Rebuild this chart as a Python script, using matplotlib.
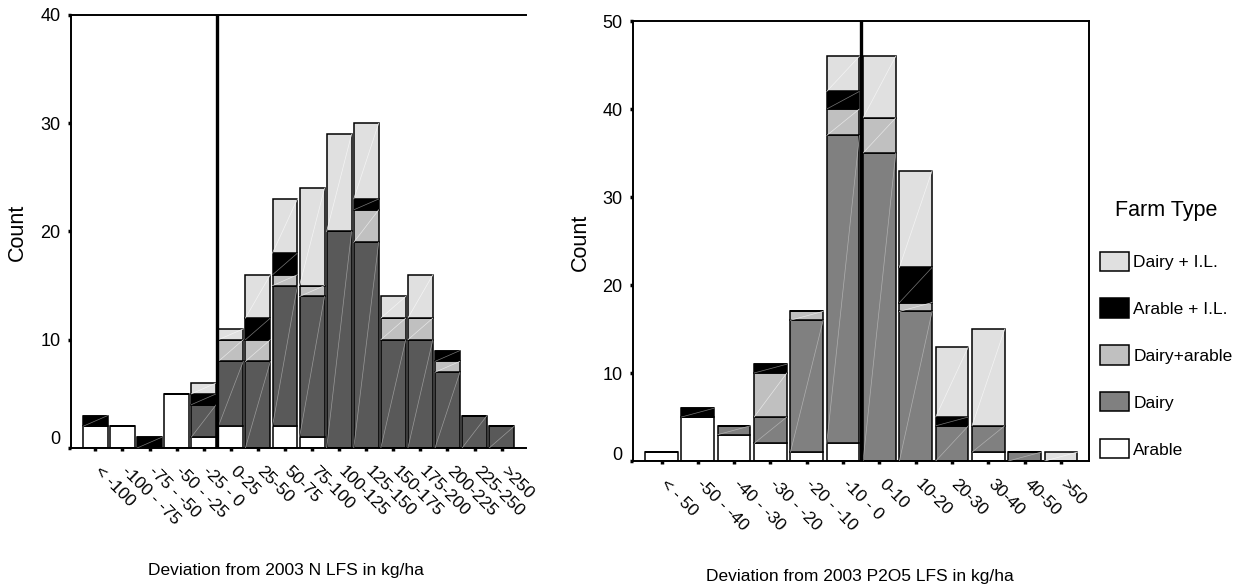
import matplotlib
matplotlib.use("Agg")
import matplotlib.pyplot as plt
import matplotlib.transforms as mtransforms
import numpy as np

plt.rcParams['font.family'] = ['Liberation Sans', 'DejaVu Sans']

# stacking order, bottom to top
farm_types = ['Arable', 'Dairy', 'Dairy+arable', 'Arable + I.L.', 'Dairy + I.L.']

# N deviation categories (left chart)
n_labels = ['< -100', '-100 - -75', '-75 - -50', '-50 - -25', '-25 - 0', '0-25',
            '25-50', '50-75', '75-100', '100-125', '125-150', '150-175',
            '175-200', '200-225', '225-250', '>250']
n_arable = [2, 2, 0, 5, 1, 2, 0, 2, 1, 0, 0, 0, 0, 0, 0, 0]
n_dairy = [0, 0, 0, 0, 3, 6, 8, 13, 13, 20, 19, 10, 10, 7, 3, 2]
n_dairy_arable = [0, 0, 0, 0, 0, 2, 2, 1, 1, 0, 3, 2, 2, 1, 0, 0]
n_arable_il = [1, 0, 1, 0, 1, 0, 2, 2, 0, 0, 1, 0, 0, 1, 0, 0]
n_dairy_il = [0, 0, 0, 0, 1, 1, 4, 5, 9, 9, 7, 2, 4, 0, 0, 0]

# P2O5 deviation categories (right chart)
p_labels = ['< - 50', '-50 - -40', '-40 - -30', '-30 - -20', '-20 - -10', '-10 - 0',
            '0-10', '10-20', '20-30', '30-40', '40-50', '>50']
p_arable = [1, 5, 3, 2, 1, 2, 0, 0, 0, 1, 0, 0]
p_dairy = [0, 0, 1, 3, 15, 35, 35, 17, 4, 3, 1, 0]
p_dairy_arable = [0, 0, 0, 5, 1, 3, 4, 1, 0, 0, 0, 0]
p_arable_il = [0, 1, 0, 1, 0, 2, 0, 4, 1, 0, 0, 0]
p_dairy_il = [0, 0, 0, 0, 0, 4, 7, 11, 8, 11, 0, 1]

W, H = 1239, 588


def draw_stack(fig, ax, labels, series, colors, line_colors, width, ymax, zero_pos, zero_lift):
    x = np.arange(len(labels))
    bottom = np.zeros(len(labels))
    for vals, fc, lc, name in zip(series, colors, line_colors, farm_types):
        vals = np.array(vals, dtype=float)
        ax.bar(x, vals, width, bottom=bottom, color=fc, edgecolor='black',
               linewidth=1.1, label=name, zorder=2)
        # faint diagonal stroke inside each segment, as in the original export
        if lc is not None:
            for xi, b, v in zip(x, bottom, vals):
                if v > 0:
                    ax.plot([xi - width / 2, xi + width / 2], [b, b + v],
                            color=lc, lw=0.5, zorder=3)
        bottom += vals
    ax.axvline(zero_pos, color='black', lw=2.4, zorder=4)
    ax.set_ylim(0, ymax)
    ax.set_yticks(np.arange(0, ymax + 1, 10))
    ax.set_xticks(x)
    ax.set_xticklabels([])
    # category labels drawn as text so they can sit just right of each tick
    offset = mtransforms.ScaledTranslation(7 / 100, -16 / 100, fig.dpi_scale_trans)
    for xi, lab in zip(x, labels):
        ax.text(xi, 0, lab, transform=ax.get_xaxis_transform() + offset,
                rotation=-45, ha='left', va='top', rotation_mode='anchor',
                fontsize=12.5)
    ax.tick_params(axis='x', length=2.5, width=2.5)
    ax.tick_params(axis='y', length=2.5, width=2.5, pad=5, labelsize=13)
    # the "0" label sits a little above the baseline in the original
    lift = mtransforms.ScaledTranslation(0, zero_lift / 100, fig.dpi_scale_trans)
    t0 = ax.yaxis.get_major_ticks()[0].label1
    t0.set_transform(t0.get_transform() + lift)
    for s in ax.spines.values():
        s.set_linewidth(1.4)


fig = plt.figure(figsize=(W / 100, H / 100), dpi=100)

# left chart: N
ax1 = fig.add_axes([71 / W, 1 - 448 / H, (526 - 71) / W, (448 - 15) / H])
draw_stack(fig, ax1, n_labels,
           [n_arable, n_dairy, n_dairy_arable, n_arable_il, n_dairy_il],
           ['white', '#595959', '#c0c0c0', 'black', '#e0e0e0'],
           [None, '#9a9a9a', '#e6e6e6', '#777777', '#f4f4f4'],
           0.92, 40, 4.5, 10)
ax1.set_xlim(-0.9, 15.9)
ax1.spines['right'].set_visible(False)

# right chart: P2O5
ax2 = fig.add_axes([633 / W, 1 - 461 / H, (1089 - 633) / W, (461 - 21) / H])
draw_stack(fig, ax2, p_labels,
           [p_arable, p_dairy, p_dairy_arable, p_arable_il, p_dairy_il],
           ['white', '#808080', '#c0c0c0', 'black', '#e0e0e0'],
           [None, '#b0b0b0', '#e6e6e6', '#777777', '#f4f4f4'],
           0.9, 50, 5.5, 8)
ax2.set_xlim(-0.785, 11.77)

# axis titles
fig.text(17 / W, 1 - 232 / H, 'Count', rotation=90, ha='center', va='center', fontsize=15.5)
fig.text(580 / W, 1 - 242 / H, 'Count', rotation=90, ha='center', va='center', fontsize=15.5)
fig.text(286 / W, 1 - 571 / H, 'Deviation from 2003 N LFS in kg/ha',
         ha='center', va='center', fontsize=12.5)
fig.text(860 / W, 1 - 577 / H, 'Deviation from 2003 P2O5 LFS in kg/ha',
         ha='center', va='center', fontsize=12.5)

# legend, top entry first
handles, labels = ax2.get_legend_handles_labels()
handles = [h for h in handles if hasattr(h, 'patches')]
leg = fig.legend(handles[::-1], farm_types[::-1], title='Farm Type',
                 loc='upper left', bbox_to_anchor=(1100 / W, 1 - 200 / H),
                 frameon=False, fontsize=12.5, title_fontsize=15.5,
                 handlelength=1.67, handleheight=1.32, handletextpad=0.25,
                 labelspacing=1.6, borderpad=0, borderaxespad=0)
leg._legend_box.sep = 22

fig.savefig('out.png', dpi=100)
